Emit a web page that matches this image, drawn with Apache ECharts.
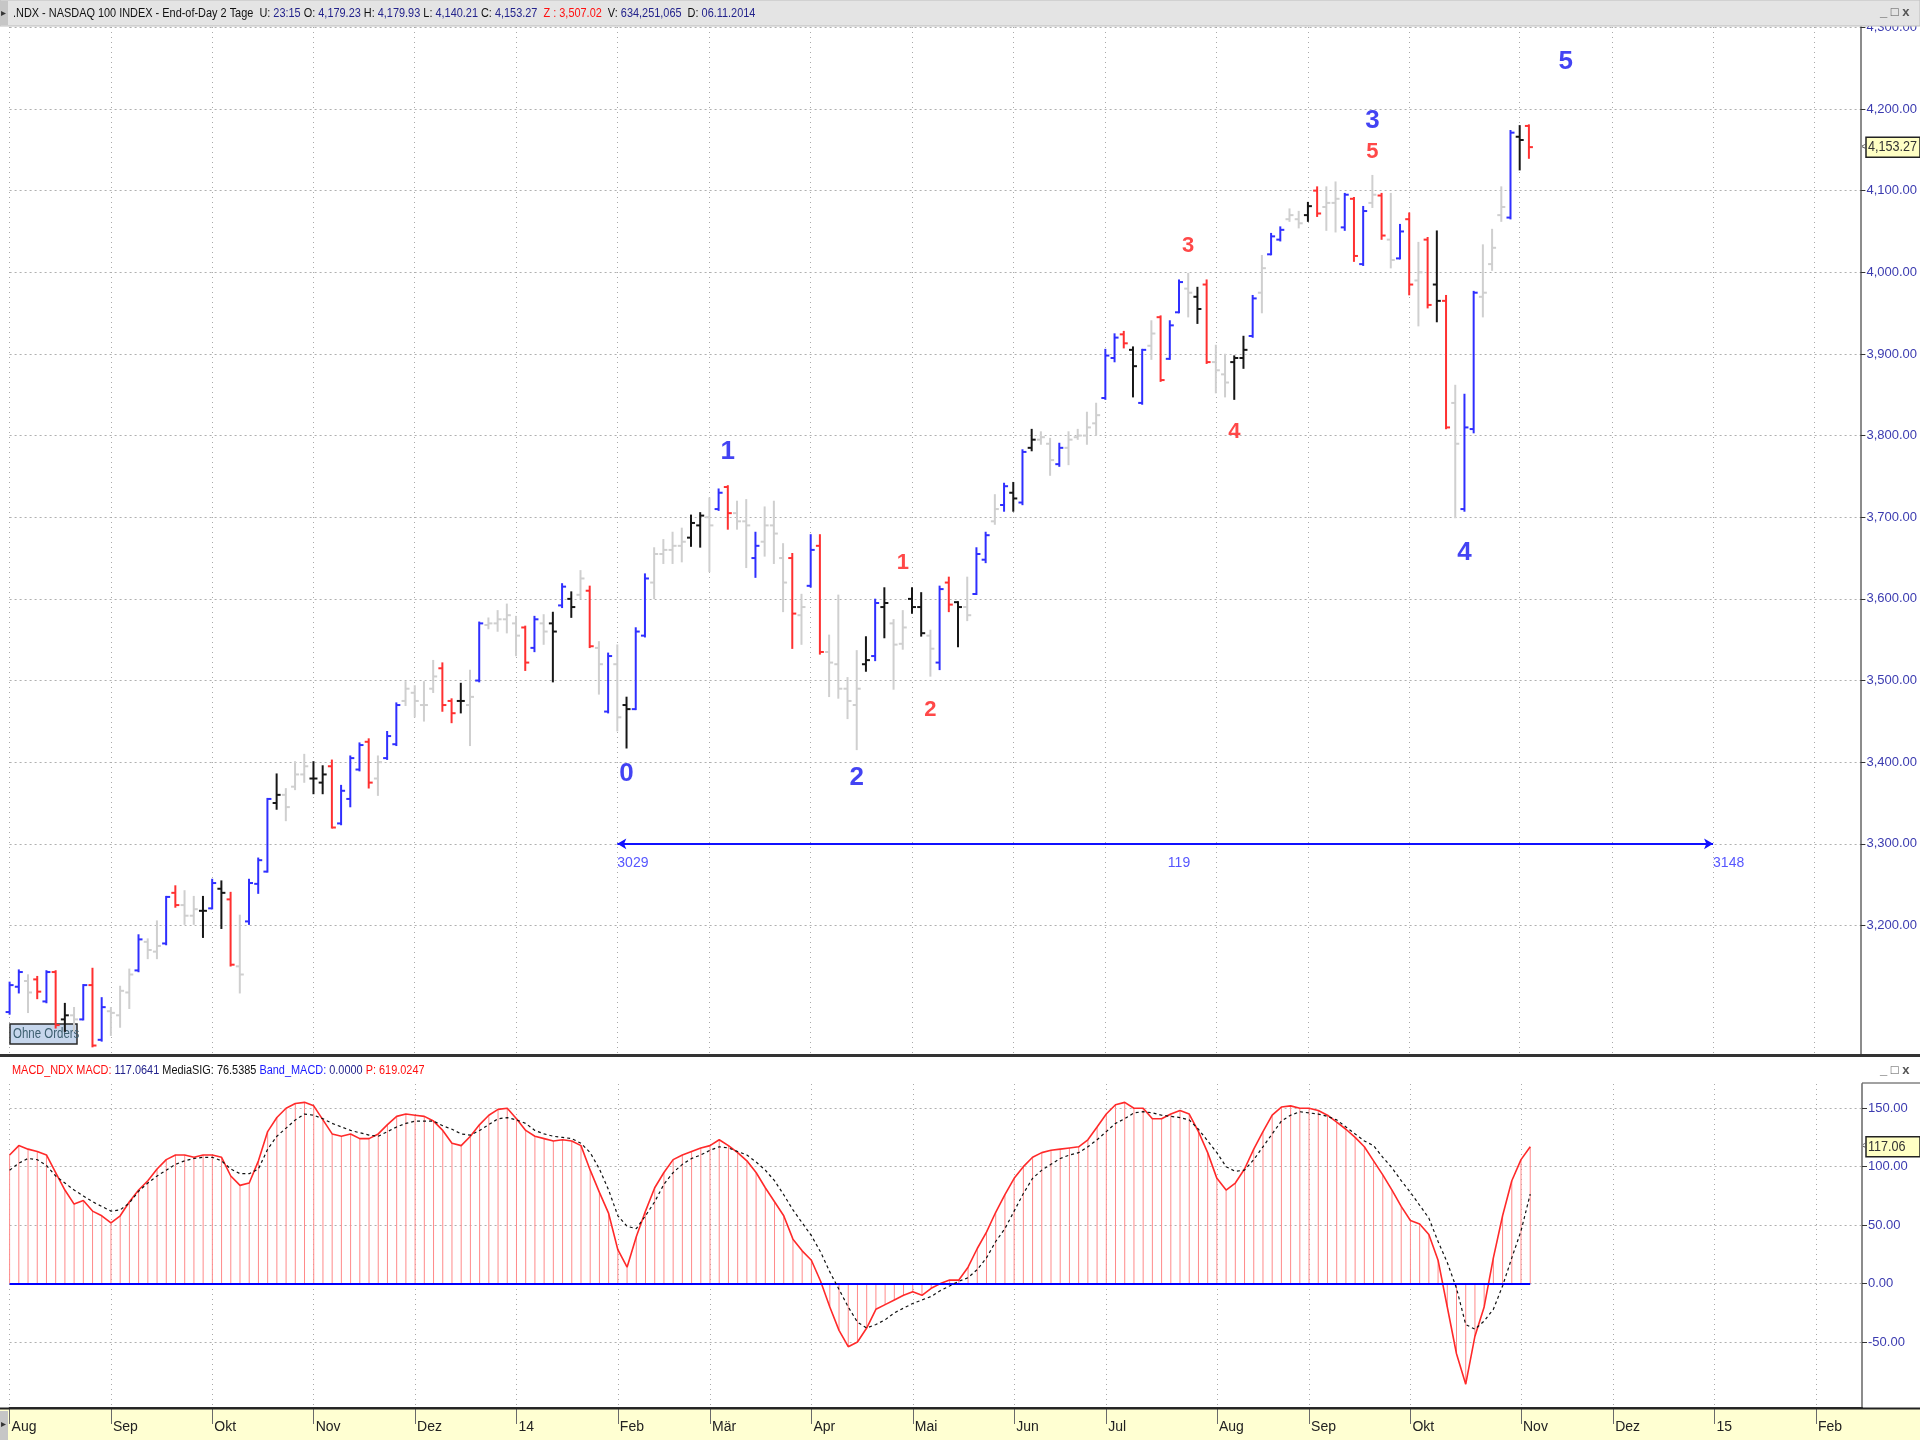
<!DOCTYPE html>
<html>
<head>
<meta charset="utf-8">
<title>NDX 2-Tage</title>
<script src="https://cdn.jsdelivr.net/npm/echarts@6/dist/echarts.min.js"></script>
<style>
  html, body { margin: 0; padding: 0; background: #fff; }
  #chart { width: 1920px; height: 1440px; }
</style>
</head>
<body>
<div id="chart"></div>
<script>
// 2-day bars, Aug 2013 .. 06.11.2014 (index 0..165), future slots up to 201
const slotCount = 202;
const monthIdx = [0, 11, 22, 33, 44, 55, 66, 76, 87, 98, 109, 119, 131, 141, 152, 164, 174, 185, 196];
const monthTxt = ['Aug', 'Sep', 'Okt', 'Nov', 'Dez', '14', 'Feb', 'Mär', 'Apr', 'Mai', 'Jun', 'Jul', 'Aug', 'Sep', 'Okt', 'Nov', 'Dez', '15', 'Feb'];

const priceTicks = [3200, 3300, 3400, 3500, 3600, 3700, 3800, 3900, 4000, 4100, 4200, 4300];
const macdTicks = [-50, 0, 50, 100, 150];

const open = [3094,3125,3132,3134,3107,3143,3085,3090,3085,3127,3060,3095,3090,3118,3145,3180,3168,3178,3240,3225,
  3212,3218,3221,3245,3232,3150,3205,3251,3266,3350,3360,3370,3385,3380,3375,3395,3325,3355,3391,3425,
  3380,3405,3422,3475,3485,3470,3490,3515,3475,3475,3470,3500,3568,3570,3575,3570,3565,3540,3570,3570,
  3592,3600,3605,3610,3540,3462,3520,3470,3465,3555,3620,3655,3660,3665,3675,3690,3700,3710,3737,3705,
  3695,3650,3670,3690,3650,3650,3580,3616,3665,3535,3520,3490,3470,3520,3530,3590,3570,3545,3600,3590,
  3555,3522,3620,3596,3590,3606,3648,3695,3715,3730,3718,3785,3795,3790,3765,3785,3798,3800,3815,3846,
  3895,3924,3905,3840,3910,3945,3894,3951,3980,3970,3985,3890,3875,3890,3895,3922,3975,4022,4040,4065,
  4065,4070,4100,4080,4085,4055,4090,4010,4085,4094,4040,4017,4065,3990,4040,3985,3965,3840,3710,3808,
  3970,4010,4070,4067,4166,4179.23];
const high = [3130,3145,3139,3137,3144,3144,3104,3099,3127,3147,3111,3099,3125,3146,3188,3183,3205,3235,3248,3242,
  3235,3235,3256,3254,3240,3212,3256,3282,3355,3385,3367,3400,3409,3400,3395,3402,3371,3407,3423,3428,
  3407,3437,3472,3498,3493,3498,3524,3521,3477,3496,3512,3571,3576,3585,3593,3578,3566,3578,3580,3583,
  3618,3608,3634,3615,3547,3533,3543,3479,3564,3630,3662,3672,3681,3686,3702,3705,3723,3734,3738,3719,
  3721,3681,3712,3719,3667,3655,3605,3678,3678,3555,3604,3503,3536,3553,3599,3613,3574,3585,3613,3607,
  3561,3615,3626,3596,3626,3662,3681,3727,3741,3742,3782,3807,3804,3796,3790,3804,3807,3828,3839,3905,
  3924,3927,3908,3905,3940,3946,3940,3990,3998,3981,3990,3910,3899,3897,3921,3971,4020,4047,4055,4077,
  4074,4085,4104,4104,4110,4096,4091,4080,4118,4096,4096,4058,4072,4036,4042,4050,3971,3861,3850,3976,
  4033,4052,4104,4173,4179,4179.93];
const low = [3092,3118,3094,3111,3106,3075,3071,3071,3085,3052,3059,3066,3076,3099,3144,3160,3160,3177,3223,3202,
  3202,3186,3221,3197,3151,3118,3202,3240,3266,3343,3329,3367,3376,3362,3362,3320,3324,3346,3390,3369,
  3360,3404,3421,3470,3456,3451,3486,3463,3449,3461,3421,3499,3564,3561,3559,3531,3513,3536,3545,3499,
  3590,3578,3601,3541,3484,3461,3439,3418,3465,3554,3601,3644,3644,3646,3665,3664,3634,3709,3686,3686,
  3639,3627,3653,3644,3585,3540,3545,3615,3533,3481,3479,3454,3416,3512,3525,3553,3490,3539,3583,3555,
  3506,3514,3585,3542,3574,3606,3645,3692,3708,3708,3716,3782,3790,3752,3763,3765,3796,3790,3801,3845,
  3891,3908,3848,3839,3894,3867,3894,3951,3946,3938,3889,3853,3848,3845,3883,3921,3951,4022,4039,4063,
  4055,4063,4069,4052,4050,4052,4014,4009,4080,4041,4006,4017,3973,3935,3957,3940,3809,3700,3708,3804,
  3946,4003,4063,4066,4126,4140.21];
const close = [3127,3143,3118,3119,3143,3078,3090,3085,3127,3053,3100,3093,3120,3140,3183,3170,3175,3235,3225,3212,
  3220,3218,3252,3240,3152,3140,3252,3280,3355,3360,3345,3385,3395,3380,3385,3320,3365,3405,3421,3375,
  3400,3432,3470,3490,3475,3470,3505,3470,3460,3475,3480,3570,3570,3575,3580,3555,3522,3575,3560,3560,
  3615,3590,3625,3542,3520,3530,3455,3465,3560,3625,3655,3660,3665,3670,3693,3702,3690,3730,3705,3695,
  3690,3665,3690,3680,3620,3582,3590,3660,3535,3522,3490,3475,3490,3525,3595,3595,3544,3565,3590,3558,
  3539,3612,3593,3590,3580,3655,3678,3710,3738,3723,3780,3795,3798,3770,3785,3795,3800,3810,3825,3898,
  3920,3913,3885,3905,3925,3868,3935,3988,3975,3955,3890,3880,3865,3895,3905,3968,4005,4044,4052,4070,
  4060,4081,4072,4085,4090,4095,4020,4075,4095,4045,4015,4050,3985,4000,3960,3965,3810,3790,3810,3975,
  3975,4030,4080,4171,4162,4153.27];
// bar state of the trading system: U up, D down, N neutral, H hold
const barState = ['U','U','N','D','U','D','H','N','U','D','U','N','N','N','U','N','N','U','D','N',
  'N','H','U','H','D','N','U','U','U','H','N','N','N','H','H','D','U','U','U','D',
  'N','U','U','N','N','N','N','D','D','H','N','U','N','N','N','N','D','U','N','H',
  'U','H','N','D','N','U','N','H','U','U','N','N','N','N','H','H','N','U','D','N',
  'N','U','N','N','N','D','N','U','D','N','N','N','N','H','U','H','N','N','H','H',
  'N','U','D','H','N','U','U','N','U','H','U','H','N','N','U','N','N','N','N','U',
  'U','D','H','U','N','D','U','U','N','H','D','N','N','H','H','U','N','U','U','N',
  'N','H','D','N','N','U','D','U','N','D','N','U','D','N','D','H','D','N','U','U',
  'N','N','N','U','H','D'];

const macd = [110,118,115,113,110,95,80,68,71,62, 58,52,58,70,80,88,98,106,110,110,
  108,110,110,108,92,84,86,105,130,142, 150,154,155,152,140,128,126,128,124,124,
  128,136,143,145,144,143,139,131,120,118, 126,136,144,149,150,141,131,126,124,122,
  123,122,118,97,78,60,29,14,40,62, 82,95,106,110,113,116,118,123,118,112,
  105,95,82,70,58,38,28,20,2,-20, -40,-54,-50,-38,-22,-18,-14,-10,-7,-10,
  -4,0,3,3,14,30,44,61,76,90, 100,108,112,114,115,116,117,123,134,145,
  153,155,150,150,141,141,145,148,145,130, 112,90,80,86,98,115,130,144,151,152,
  150,150,148,144,138,132,125,117,105,93, 80,66,54,51,42,20,-20,-60,-86,-45,
  -20,22,58,88,106,117.06];
const signalLine = [97,103,107,106,101,92,86,80,75,70, 66,62,63,69,79,86,92,97,102,105,
  107,108,108,105,98,94,94,98,115,126, 133,140,145,144,141,137,134,131,129,127,
  126,130,134,137,139,139,139,135,132,128, 127,131,136,141,142,140,137,131,128,126,
  125,124,120,112,98,80,58,49,47,58, 70,85,95,102,107,110,114,117,116,113,
  110,104,97,88,76,63,52,41,27,10, -5,-20,-33,-38,-35,-31,-25,-21,-17,-14,
  -11,-6,-2,2,5,12,22,36,47,62, 77,90,97,102,107,110,112,117,123,130,
  137,141,146,147,146,144,143,142,140,132, 122,112,100,96,97,106,117,128,139,144,
  147,146,145,143,140,134,128,122,118,108, 99,88,78,67,56,36,18,-4,-35,-39,
  -32,-22,-2,22,45,76.54];
const bandMacd = 0;

// Elliott wave labels: [bar index, price, text]
const waveBlue = [[67, 3386, '0'], [78, 3780, '1'], [92, 3381, '2'], [148, 4186, '3'], [158, 3656, '4'], [169, 4258, '5']];
const waveRed = [[97, 3644, '1'], [100, 3464, '2'], [128, 4032, '3'], [133, 3804, '4'], [148, 4148, '5']];

// bar-count measurement
const measureFrom = 66, measureTo = 185, measureLevel = 3300;
const measureText = [[66, 3276, '3029'], [127, 3276, '119'], [185, 3276, '3148']];

const FONT = "'Liberation Sans', Arial, sans-serif";
const stateColor = { U: '#2f2fff', D: '#ff3030', N: '#cfcfcf', H: '#161616' };

const cats = Array.from({ length: slotCount }, (_, i) => String(i));
const monthMap = {};
monthIdx.forEach((k, j) => { monthMap[k] = monthTxt[j]; });
const isMonth = (i) => monthMap[i] !== undefined;
const fmt2 = (v) => v.toLocaleString('en-US', { minimumFractionDigits: 2, maximumFractionDigits: 2 });

const ohlc = close.map((c, i) => [i, open[i], high[i], low[i], c]);

function renderOhlc(params, api) {
  const i = api.value(0);
  const pO = api.coord([i, api.value(1)]);
  const yH = api.coord([i, api.value(2)])[1];
  const yL = api.coord([i, api.value(3)])[1];
  const yC = api.coord([i, api.value(4)])[1];
  const x = pO[0];
  const st = { stroke: stateColor[barState[params.dataIndex]], lineWidth: 2 };
  return {
    type: 'group',
    children: [
      { type: 'line', shape: { x1: x, y1: yH - 1, x2: x, y2: yL + 1 }, style: st },
      { type: 'line', shape: { x1: x - 4, y1: pO[1], x2: x, y2: pO[1] }, style: st },
      { type: 'line', shape: { x1: x, y1: yC, x2: x + 4, y2: yC }, style: st }
    ]
  };
}

function xAxisFor(grid, withLabels) {
  return {
    type: 'category', gridIndex: grid, data: cats, boundaryGap: false,
    axisLine: { show: withLabels, onZero: false, lineStyle: { color: '#303030', width: 2 } },
    axisTick: { show: withLabels, interval: isMonth, length: 16, lineStyle: { color: '#6a6a6a' } },
    axisLabel: {
      show: withLabels, interval: isMonth, formatter: (v, i) => monthMap[i] || '',
      align: 'left', margin: 12, padding: [0, 0, 0, 2], fontSize: 14, color: '#222', fontFamily: FONT
    },
    splitLine: { show: true, interval: isMonth, lineStyle: { color: '#a9a9a9', type: [1, 4] } }
  };
}

function yAxisFor(grid, min, max, ticks) {
  return {
    type: 'value', gridIndex: grid, position: 'right', min: min, max: max,
    axisLine: { show: true, lineStyle: { color: '#8c8c8c', width: 2 } },
    axisTick: { show: true, customValues: ticks, length: 5, lineStyle: { color: '#333' } },
    axisLabel: { customValues: ticks, formatter: fmt2, margin: 6, fontSize: 13, color: '#3b3bb0', fontFamily: FONT },
    splitLine: { show: true, lineStyle: { color: '#b0b0b0', type: [2, 3] } }
  };
}

function textSeries(data, color, size, align) {
  return {
    type: 'scatter', xAxisIndex: 0, yAxisIndex: 0, silent: true, symbolSize: 2,
    itemStyle: { color: 'rgba(0,0,0,0)' },
    data: data.map(d => ({ value: [d[0], d[1]], name: d[2] })),
    label: {
      show: true, position: 'inside', formatter: '{b}', color: color, align: align,
      fontSize: size, fontWeight: size > 16 ? 'bold' : 'normal', fontFamily: FONT
    },
    z: 5
  };
}

const chart = echarts.init(document.getElementById('chart'));
chart.setOption({
  animation: false,
  backgroundColor: '#ffffff',
  textStyle: { fontFamily: FONT },
  grid: [
    { left: 9.6, right: 58, top: 27, height: 1028 },
    { left: 9.6, right: 58, top: 1084, height: 324 }
  ],
  xAxis: [xAxisFor(0, false), xAxisFor(1, true)],
  yAxis: [
    yAxisFor(0, 3041.4, 4300.4, priceTicks),
    yAxisFor(1, -106.4, 170.7, macdTicks)
  ],
  series: [
    {
      type: 'custom', name: 'NDX', xAxisIndex: 0, yAxisIndex: 0, clip: false,
      data: ohlc, encode: { x: 0, y: [1, 2, 3, 4] }, renderItem: renderOhlc, z: 3,
      markLine: {
        silent: true, symbol: ['arrow', 'arrow'], symbolSize: [8, 9], label: { show: false },
        lineStyle: { color: '#1010ff', width: 2, type: 'solid' },
        data: [[{ coord: [measureFrom, measureLevel] }, { coord: [measureTo, measureLevel] }]]
      }
    },
    textSeries(waveBlue, '#1414f0', 26, 'center'),
    textSeries(waveRed, '#ff1a1a', 22, 'center'),
    textSeries(measureText.slice(1, 2), '#2a2aff', 14, 'center'),
    textSeries([measureText[0], measureText[2]], '#2a2aff', 14, 'left'),
    {
      type: 'bar', name: 'hist', xAxisIndex: 1, yAxisIndex: 1, data: macd, barWidth: 1,
      itemStyle: { color: '#ff8a8a' }, silent: true
    },
    {
      type: 'line', name: 'MACD', xAxisIndex: 1, yAxisIndex: 1, data: macd, symbol: 'none',
      lineStyle: { color: '#ff2a2a', width: 1.6 }, z: 4,
      markLine: {
        silent: true, symbol: ['none', 'none'], label: { show: false },
        lineStyle: { color: '#0000ff', width: 2, type: 'solid' },
        data: [[{ coord: [0, bandMacd] }, { coord: [close.length - 1, bandMacd] }]]
      }
    },
    {
      type: 'line', name: 'MediaSIG', xAxisIndex: 1, yAxisIndex: 1, data: signalLine, symbol: 'none',
      lineStyle: { color: '#111', width: 1.2, type: [3, 3] }, z: 5
    }
  ]
});

// frame, headers and last-value boxes
const lastClose = close[close.length - 1];
const lastMacd = macd[macd.length - 1];
const yPrice = chart.convertToPixel({ yAxisIndex: 0 }, lastClose);
const yMacd = chart.convertToPixel({ yAxisIndex: 1 }, lastMacd);

function valueBox(y, text) {
  return {
    type: 'group', z: 120, children: [
      { type: 'rect', shape: { x: 1866, y: y - 10, width: 54, height: 20 }, style: { fill: '#ffffc4', stroke: '#222', lineWidth: 1.5 } },
      { type: 'text', x: 1868, y: y, scaleX: 0.9, style: { text: text, font: '14px ' + FONT, fill: '#333', verticalAlign: 'middle' } },
      { type: 'text', x: 1861, y: y, style: { text: '<', font: '10px ' + FONT, fill: '#555', verticalAlign: 'middle' } }
    ]
  };
}
function winButtons(y) {
  return { type: 'text', z: 120, x: 1880, y: y, style: { text: '_ □ x', font: 'bold 13px ' + FONT, fill: '#555', verticalAlign: 'middle' } };
}
const richHead = {
  k: { fill: '#111', fontSize: 13, fontFamily: FONT },
  v: { fill: '#23238c', fontSize: 13, fontFamily: FONT },
  r: { fill: '#ff1010', fontSize: 13, fontFamily: FONT },
  b: { fill: '#1a1aff', fontSize: 13, fontFamily: FONT }
};

chart.setOption({
  graphic: [
    { type: 'rect', z: -5, shape: { x: 0, y: 1409, width: 1920, height: 31 }, style: { fill: '#ffffd2' } },
    { type: 'rect', z: -4, shape: { x: 0, y: 1411, width: 8, height: 29 }, style: { fill: '#c6c6c6' } },
    { type: 'text', z: -3, x: 1, y: 1424, style: { text: '▸', font: '10px sans-serif', fill: '#333', verticalAlign: 'middle' } },
    { type: 'line', z: 111, shape: { x1: 0, y1: 1408.5, x2: 1920, y2: 1408.5 }, style: { stroke: '#222', lineWidth: 2 } },

    { type: 'rect', z: 110, shape: { x: 0, y: 0, width: 1920, height: 26 }, style: { fill: '#e4e4e4', stroke: '#bdbdbd', lineWidth: 1 } },
    { type: 'rect', z: 111, shape: { x: 0, y: 1, width: 8, height: 24 }, style: { fill: '#c6c6c6' } },
    { type: 'text', z: 112, x: 1, y: 13, style: { text: '▸', font: '10px sans-serif', fill: '#333', verticalAlign: 'middle' } },
    {
      type: 'text', z: 112, x: 13, y: 13, scaleX: 0.84,
      style: {
        text: '{k|.NDX - NASDAQ 100 INDEX - End-of-Day 2 Tage  U: }{v|23:15}{k| O: }{v|4,179.23}{k| H: }{v|4,179.93}{k| L: }{v|4,140.21}{k| C: }{v|4,153.27}{r|  Z : 3,507.02}{k|  V: }{v|634,251,065}{k|  D: }{v|06.11.2014}',
        font: '13px ' + FONT, verticalAlign: 'middle', rich: richHead
      }
    },
    winButtons(12),

    { type: 'rect', z: 110, shape: { x: 0, y: 1054, width: 1920, height: 3 }, style: { fill: '#333' } },
    { type: 'rect', z: 110, shape: { x: 0, y: 1057, width: 1920, height: 26 }, style: { fill: '#ffffff' } },
    { type: 'line', z: 110, shape: { x1: 1862, y1: 1083, x2: 1920, y2: 1083 }, style: { stroke: '#444', lineWidth: 1 } },
    {
      type: 'text', z: 112, x: 12, y: 1070, scaleX: 0.84,
      style: {
        text: '{r|MACD_NDX MACD: }{v|117.0641}{k| MediaSIG: 76.5385}{b| Band_MACD: }{v|0.0000}{r| P: 619.0247}',
        font: '13px ' + FONT, verticalAlign: 'middle', rich: richHead
      }
    },
    winButtons(1070),

    {
      type: 'group', z: 120, children: [
        { type: 'rect', shape: { x: 10, y: 1024, width: 67, height: 20 }, style: { fill: '#c6d6ec', stroke: '#2a2a2a', lineWidth: 1.5 } },
        { type: 'text', x: 13, y: 1034, scaleX: 0.82, style: { text: 'Ohne Orders', font: '14px ' + FONT, fill: '#3d5f70', verticalAlign: 'middle' } }
      ]
    },
    valueBox(yPrice, fmt2(lastClose)),
    valueBox(yMacd, fmt2(lastMacd))
  ]
});
</script>
</body>
</html>
